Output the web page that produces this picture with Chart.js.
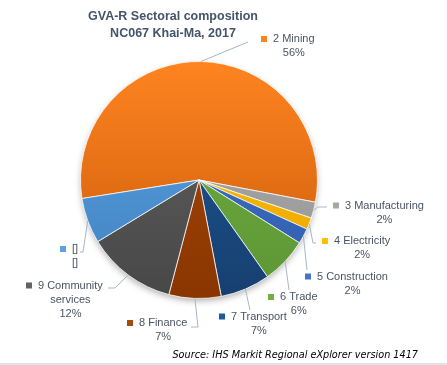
<!DOCTYPE html>
<html>
<head>
<meta charset="utf-8">
<title>GVA-R Sectoral composition</title>
<script src="https://cdn.jsdelivr.net/npm/chart.js@4.4.1/dist/chart.umd.min.js"></script>
<style>
  html, body { margin: 0; padding: 0; background: #ffffff; }
  canvas { display: block; }
</style>
</head>
<body>
<canvas id="chart" width="447" height="365"></canvas>
<script>
// ────────────────────────────────────────────────────────────
// Datos
// ────────────────────────────────────────────────────────────
const SECTORS = [
  "2 Mining", "3 Manufacturing", "4 Electricity", "5 Construction",
  "6 Trade", "7 Transport", "8 Finance", "9 Community\nservices", "[]"
];
const SHARES = [55.5, 2.2, 1.6, 2.1, 6.3, 6.8, 7.1, 12.2, 6.2];
const SHARE_TEXT = ["56%", "2%", "2%", "2%", "6%", "7%", "7%", "12%", "[]"];

const TITLE_LINES = ["GVA-R Sectoral composition", "NC067 Khai-Ma, 2017"];
const SOURCE_TEXT = "Source: IHS Markit Regional eXplorer version 1417";

// colores (arriba -> abajo, sombreado tipo Excel)
const COLOR_TOP = ["#ff8420", "#a8a8a8", "#ffc000", "#4474c8", "#72b044", "#1f5a98", "#a84a0a", "#636363", "#5ca2e0"];
const COLOR_BOTTOM = ["#c85a0a", "#989898", "#eaa800", "#2f5cae", "#5c9634", "#163f70", "#8a3500", "#474747", "#3f82c2"];

// ────────────────────────────────────────────────────────────
// Posiciones de etiquetas (texto izq., centro 1a línea) y codos
// ────────────────────────────────────────────────────────────
const LABEL_POS = [
  [273, 39], [345, 205.5], [334, 241], [317, 276.5], [280, 297],
  [231, 316.5], [139, 323], [38, 285.5], [72, 249]
];
const LEADERS = [
  [[248, 42]],
  [[318, 207], [327, 207]],
  [[313, 243], [316, 243]],
  [[307, 270]],
  [[289, 290]],
  [[250, 310]],
  [[198, 327], [191, 327]],
  [[115, 288], [108, 288]],
  [[83, 252], [80, 252]]
];

(function () {
  "use strict";

  const LABEL_FONT = '11px "Liberation Sans", Arial, sans-serif';
  const LABEL_COLOR = "#4b5463";
  const LINE_H = 14;

  function sliceGradient(c) {
    const chart = c.chart;
    const area = chart.chartArea;
    const i = c.dataIndex;
    if (!area) return COLOR_TOP[i];
    const g = chart.ctx.createLinearGradient(0, area.top, 0, area.bottom);
    g.addColorStop(0, COLOR_TOP[i]);
    g.addColorStop(1, COLOR_BOTTOM[i]);
    return g;
  }

  // Sombra bajo la tarta
  const shadowPlugin = {
    id: "pieShadow",
    beforeDatasetsDraw(chart) {
      const arc = chart.getDatasetMeta(0).data[0];
      if (!arc) return;
      const p = arc.getProps(["x", "y", "outerRadius"], true);
      const ctx = chart.ctx;
      ctx.save();
      ctx.shadowColor = "rgba(0,0,0,0.35)";
      ctx.shadowBlur = 7;
      ctx.shadowOffsetY = 3;
      ctx.beginPath();
      ctx.arc(p.x, p.y, p.outerRadius - 1, 0, Math.PI * 2);
      ctx.fillStyle = "#ffffff";
      ctx.fill();
      ctx.restore();
    }
  };

  // Etiquetas con líneas guía
  const calloutPlugin = {
    id: "callouts",
    afterDatasetsDraw(chart) {
      const ctx = chart.ctx;
      const arcs = chart.getDatasetMeta(0).data;
      ctx.save();
      arcs.forEach(function (arc, i) {
        const p = arc.getProps(["x", "y", "startAngle", "endAngle", "outerRadius"], true);
        const mid = (p.startAngle + p.endAngle) / 2;
        const ex = p.x + Math.cos(mid) * p.outerRadius;
        const ey = p.y + Math.sin(mid) * p.outerRadius;

        ctx.strokeStyle = "#a9b6c8";
        ctx.lineWidth = 1;
        ctx.beginPath();
        ctx.moveTo(ex, ey);
        LEADERS[i].forEach(function (pt) { ctx.lineTo(pt[0], pt[1]); });
        ctx.stroke();

        const tx = LABEL_POS[i][0];
        const ty = LABEL_POS[i][1];
        const lines = SECTORS[i].split("\n").concat([SHARE_TEXT[i]]);

        ctx.fillStyle = COLOR_TOP[i];
        ctx.fillRect(tx - 12, ty - 3, 6, 6);

        ctx.font = LABEL_FONT;
        ctx.fillStyle = LABEL_COLOR;
        ctx.textBaseline = "middle";
        ctx.textAlign = "left";
        ctx.fillText(lines[0], tx, ty);
        const cx = tx + ctx.measureText(lines[0]).width / 2;
        ctx.textAlign = "center";
        for (let k = 1; k < lines.length; k++) {
          ctx.fillText(lines[k], cx, ty + LINE_H * k);
        }
      });
      ctx.restore();
    }
  };

  // Título, fuente y borde inferior
  const framePlugin = {
    id: "frame",
    afterDraw(chart) {
      const ctx = chart.ctx;
      ctx.save();
      ctx.fillStyle = "#44546a";
      ctx.font = 'bold 12.5px "Liberation Sans", Arial, sans-serif';
      ctx.textAlign = "center";
      ctx.textBaseline = "middle";
      ctx.fillText(TITLE_LINES[0], 173, 16.5);
      ctx.fillText(TITLE_LINES[1], 173, 33.5);

      ctx.fillStyle = "#000000";
      ctx.font = 'italic 9.7px "DejaVu Sans", Verdana, sans-serif';
      ctx.textAlign = "right";
      ctx.textBaseline = "alphabetic";
      ctx.fillText(SOURCE_TEXT, 418, 358);

      ctx.fillStyle = "#dde4eb";
      ctx.fillRect(0, 363, 447, 2);
      ctx.restore();
    }
  };

  new Chart(document.getElementById("chart"), {
    type: "pie",
    data: {
      labels: SECTORS,
      datasets: [{
        data: SHARES,
        backgroundColor: sliceGradient,
        borderColor: "rgba(255,255,255,0.75)",
        borderWidth: 1
      }]
    },
    options: {
      responsive: false,
      animation: false,
      rotation: -99,
      layout: { padding: { top: 61, bottom: 66, left: 80, right: 129 } },
      plugins: {
        legend: { display: false },
        title: { display: false },
        tooltip: { enabled: false }
      }
    },
    plugins: [shadowPlugin, calloutPlugin, framePlugin]
  });
})();
</script>
</body>
</html>
